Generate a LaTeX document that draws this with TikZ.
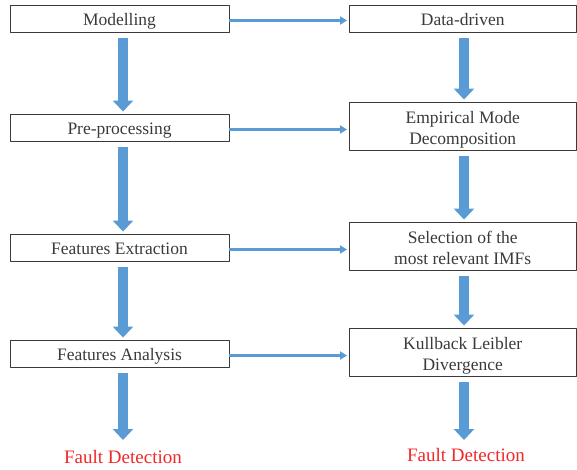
\documentclass[tikz,border=0pt]{standalone}
\usepackage{fontspec}
\setmainfont{Liberation Serif}
\usetikzlibrary{arrows.meta}
\definecolor{flowblue}{HTML}{5B9BD5}
\definecolor{boxgray}{HTML}{3A3A3A}
\definecolor{faultred}{HTML}{F02828}
\newcommand{\onestrut}{\rule[-4pt]{0pt}{22pt}}
\newcommand{\twostrut}{\rule[-4pt]{0pt}{45pt}}
\begin{document}
\begin{tikzpicture}[x=1pt, y=-1pt, font=\fontsize{17.5}{21}\selectfont, line join=round,
	box/.style={draw=boxgray, line width=0.9pt, text=boxgray, align=center, inner sep=0pt,
		execute at begin node=#1},
	leftbox/.style={box=\onestrut, minimum width=219pt, minimum height=27pt},
	rightbox/.style={box=\twostrut, minimum width=227.5pt, minimum height=48pt},
	bigarrow/.style={draw=flowblue, line width=10pt, -{Triangle[width=20pt,length=11pt]}, shorten <=6pt, shorten >=2pt},
	thinarrow/.style={draw=flowblue, line width=2.6pt, -{Triangle[width=8pt,length=7pt]}, shorten >=1.5pt},
	fault/.style={text=faultred, inner sep=0pt, font=\fontsize{19}{22}\selectfont}]
	% Kích thước khung
	\useasboundingbox (0,0) rectangle (577,469);
	\coordinate (colL) at (123,0);
	\coordinate (colR) at (464,0);
	
	% Cột trái
	\node[leftbox] (model) at (119.5,18.5) {Modelling};
	\node[leftbox] (pre) at (119.5,127.5) {Pre-processing};
	\node[leftbox] (fext) at (119.5,247.5) {Features Extraction};
	\node[leftbox] (fana) at (119.5,353.5) {Features Analysis};
	\node[fault] (faultL) at (123,457) {Fault Detection};
	\coordinate (endL) at (123,442);
	
	% Cột phải
	\node[leftbox, minimum width=227.5pt] (data) at (462.75,18.5) {Data-driven};
	\node[rightbox] (emd) at (462.75,126) {Empirical Mode\\Decomposition};
	\node[rightbox] (imf) at (462.75,246) {Selection of the\\most relevant IMFs};
	\node[rightbox] (kld) at (462.75,352) {Kullback Leibler\\Divergence};
	\node[fault] (faultR) at (466,455) {Fault Detection};
	\coordinate (endR) at (464,442);
	
	% Mũi tên dọc
	\foreach \a/\b in {model/pre, pre/fext, fext/fana}
		\draw[bigarrow] (\a.south -| colL) -- (\b.north -| colL);
	\draw[bigarrow] (fana.south -| colL) -- (endL);
	\foreach \a/\b in {data/emd, emd/imf, imf/kld}
		\draw[bigarrow] (\a.south -| colR) -- (\b.north -| colR);
	\draw[bigarrow] (kld.south -| colR) -- (endR);
	
	% Mũi tên ngang
	\foreach \a/\b in {model/data, pre/emd, fext/imf, fana/kld}
		\draw[thinarrow] ([yshift=-2pt]\a.east) -- ([yshift=-2pt]\a.east -| \b.west);
\end{tikzpicture}
\end{document}
